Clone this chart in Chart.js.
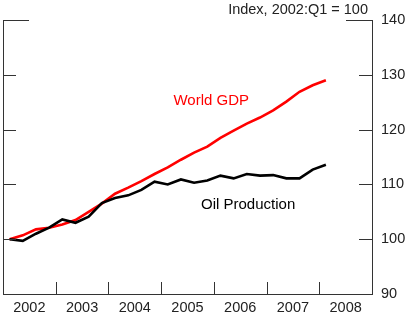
<!DOCTYPE html>
<html><head><meta charset="utf-8">
<script src="https://cdn.jsdelivr.net/npm/chart.js@4.4.0/dist/chart.umd.min.js"></script>
<style>html,body{margin:0;padding:0;background:#fff;}canvas{display:block;}</style>
</head><body>
<canvas id="c" width="413" height="328"></canvas>
<script>
const years = ['2002','2003','2004','2005','2006','2007','2008'];
const quarterLabels = ['2002:Q1','2002:Q2','2002:Q3','2002:Q4','2003:Q1','2003:Q2','2003:Q3','2003:Q4',
  '2004:Q1','2004:Q2','2004:Q3','2004:Q4','2005:Q1','2005:Q2','2005:Q3','2005:Q4',
  '2006:Q1','2006:Q2','2006:Q3','2006:Q4','2007:Q1','2007:Q2','2007:Q3','2007:Q4','2008:Q1'];
const worldGDP = [100.0,100.7,101.8,102.1,102.7,103.5,105.0,106.5,108.3,109.4,110.6,111.9,113.1,114.5,115.8,116.9,118.5,119.8,121.1,122.2,123.5,125.1,126.9,128.1,129.0];
const oilProduction = [100.0,99.7,101.0,102.1,103.6,103.0,104.1,106.6,107.5,108.0,109.0,110.5,110.0,110.9,110.3,110.7,111.6,111.1,111.9,111.6,111.7,111.1,111.1,112.7,113.6];
const yTicks = [90,100,110,120,130,140];
const unitLabel = 'Index, 2002:Q1 = 100';
const seriesNames = ['World GDP','Oil Production'];

const FONT = '"Liberation Sans", Arial, sans-serif';
const AXIS = '#333';
const TEXT = '#222';

function qIndex(label){ return quarterLabels.indexOf(label); }
function toPoints(vals){ return vals.map((v,i)=>({x:qIndex(quarterLabels[i]), y:v})); }

const frame = {
  id:'frame',
  afterDraw(chart){
    const {ctx, chartArea:a, scales} = chart;
    const y = scales.y, x = scales.x, q = scales.q;
    ctx.save();
    ctx.strokeStyle = AXIS; ctx.lineWidth = 1;
    ctx.beginPath();
    ctx.moveTo(a.left+0.5, a.top); ctx.lineTo(a.left+0.5, a.bottom);
    yTicks.forEach(v=>{
      if (v===yTicks[0]) return;
      const len = v===yTicks[yTicks.length-1] ? 26 : 13;
      const py = Math.round(y.getPixelForValue(v))+0.5;
      ctx.moveTo(a.left, py); ctx.lineTo(a.left+len, py);
      ctx.moveTo(a.right, py); ctx.lineTo(a.right-len, py);
    });
    for (let k=1;k<years.length;k++){
      const px = Math.round((x.getPixelForValue(k-1)+x.getPixelForValue(k))/2)+0.5;
      ctx.moveTo(px, a.bottom); ctx.lineTo(px, a.bottom-12);
    }
    ctx.stroke();
    ctx.textBaseline = 'middle';
    ctx.font = '14.5px ' + FONT;
    ctx.fillStyle = TEXT; ctx.textAlign = 'right';
    ctx.fillText(unitLabel, a.right-4, a.top-10);
    ctx.font = '15px ' + FONT;
    ctx.textAlign = 'center';
    ctx.fillStyle = '#ff0000';
    ctx.fillText(seriesNames[0], q.getPixelForValue(15.3), y.getPixelForValue(125.2));
    ctx.fillStyle = '#000';
    ctx.fillText(seriesNames[1], q.getPixelForValue(18.1), y.getPixelForValue(106.2));
    ctx.restore();
  }
};

new Chart(document.getElementById('c'), {
  type:'line',
  data:{
    labels: years,
    datasets:[
      {label:seriesNames[1], data:toPoints(oilProduction), xAxisID:'q', yAxisID:'y', borderColor:'#000', borderWidth:2.6, pointRadius:0, tension:0, fill:false},
      {label:seriesNames[0], data:toPoints(worldGDP), xAxisID:'q', yAxisID:'y', borderColor:'#ff0000', borderWidth:2.6, pointRadius:0, tension:0, fill:false}
    ]
  },
  options:{
    responsive:false, animation:false, devicePixelRatio:1,
    layout:{padding:{left:3, top:20, right:0, bottom:0}},
    plugins:{legend:{display:false}, tooltip:{enabled:false}, title:{display:false}},
    scales:{
      x:{type:'category', labels:years, position:'bottom', offset:true,
         grid:{display:false, drawTicks:false, offset:true},
         border:{display:true, color:AXIS, width:1},
         ticks:{padding:5, color:TEXT, font:{family:FONT, size:14.5}, maxRotation:0, autoSkip:false},
         afterFit(s){ s.height = 34; }},
      q:{type:'linear', min:-0.5, max:27.5, display:false},
      y:{type:'linear', position:'right', min:90, max:140,
         afterBuildTicks(s){ s.ticks = yTicks.map(v=>({value:v})); },
         grid:{display:false, drawTicks:false},
         border:{display:true, color:AXIS, width:1},
         ticks:{padding:9, color:TEXT, font:{family:FONT, size:14.5}},
         afterFit(s){ s.width = 41; }}
    }
  },
  plugins:[frame]
});
</script>
</body></html>
